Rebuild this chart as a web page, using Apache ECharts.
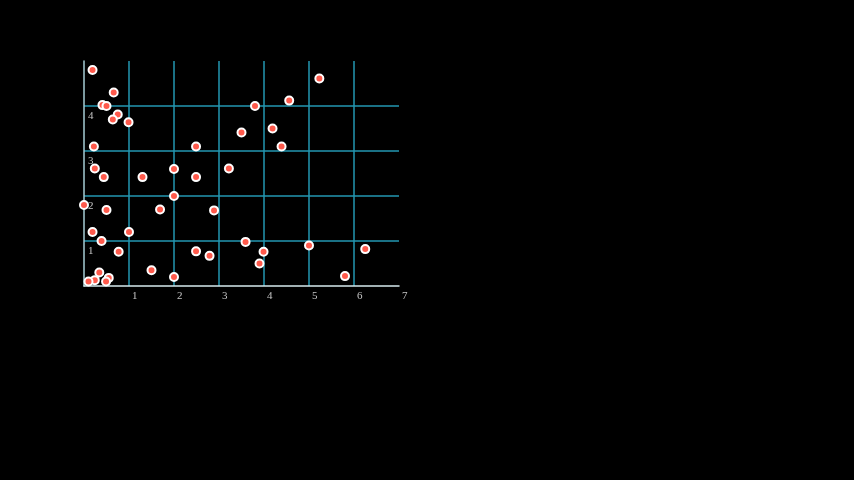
<!DOCTYPE html>
<html>
<head>
<meta charset="utf-8">
<script src="https://cdn.jsdelivr.net/npm/echarts@6/dist/echarts.min.js"></script>
<style>
html,body{margin:0;padding:0;background:#000;}
#c{width:854px;height:480px;}
</style>
</head>
<body>
<div id="c"></div>
<script>
const xValues = [0.19,5.23,0.66,4.56,0.41,0.50,3.80,0.75,0.64,0.99,4.19,3.50,0.22,2.49,4.39,0.24,2.00,3.22,0.44,1.30,2.49,2.00,0.00,0.50,1.69,2.89,0.19,1.00,0.39,3.59,5.00,0.77,2.49,3.99,6.25,2.79,3.90,1.50,0.34,2.00,5.80,0.55,0.49,0.24,0.10];
const yValues = [4.80,4.61,4.30,4.12,4.02,4.00,4.00,3.81,3.70,3.64,3.50,3.41,3.10,3.10,3.10,2.61,2.60,2.61,2.42,2.42,2.42,2.00,1.80,1.69,1.70,1.68,1.20,1.20,1.00,0.98,0.90,0.76,0.77,0.76,0.82,0.67,0.50,0.35,0.30,0.20,0.22,0.18,0.10,0.13,0.10];
const xRange = [0, 7];
const yRange = [0, 5];

const points = xValues.map((x, i) => [x, yValues[i]]);
const chart = echarts.init(document.getElementById('c'));
const labelFont = {color: '#c4c4c4', fontFamily: 'Liberation Serif', fontSize: 11};
chart.setOption({
  backgroundColor: '#000',
  animation: false,
  grid: {left: 84, top: 61, width: 315, height: 225, containLabel: false},
  xAxis: {
    type: 'value', min: xRange[0], max: xRange[1], interval: 1,
    axisLine: {show: true, onZero: false, lineStyle: {color: '#d6eaee', width: 1.5}},
    axisTick: {show: false},
    splitLine: {show: true, showMinLine: false, showMaxLine: false, lineStyle: {color: '#2397b2', width: 1.5}},
    axisLabel: Object.assign({showMinLabel: false, showMaxLabel: true, align: 'left', verticalAlign: 'top', margin: 5, padding: [0,0,0,3]}, labelFont)
  },
  yAxis: {
    type: 'value', min: yRange[0], max: yRange[1], interval: 1,
    axisLine: {show: true, onZero: false, lineStyle: {color: '#a6cdd5', width: 1.5}},
    axisTick: {show: false},
    splitLine: {show: true, showMinLine: false, showMaxLine: false, lineStyle: {color: '#2397b2', width: 1.5}},
    axisLabel: Object.assign({inside: true, showMinLabel: false, showMaxLabel: false, align: 'left', verticalAlign: 'top', margin: 4, padding: [5,0,0,0]}, labelFont)
  },
  series: [{
    type: 'scatter',
    data: points,
    symbolSize: 8,
    itemStyle: {color: '#ff5a4c', borderColor: '#ffffff', borderWidth: 2, opacity: 1}
  }]
});
</script>
</body>
</html>
